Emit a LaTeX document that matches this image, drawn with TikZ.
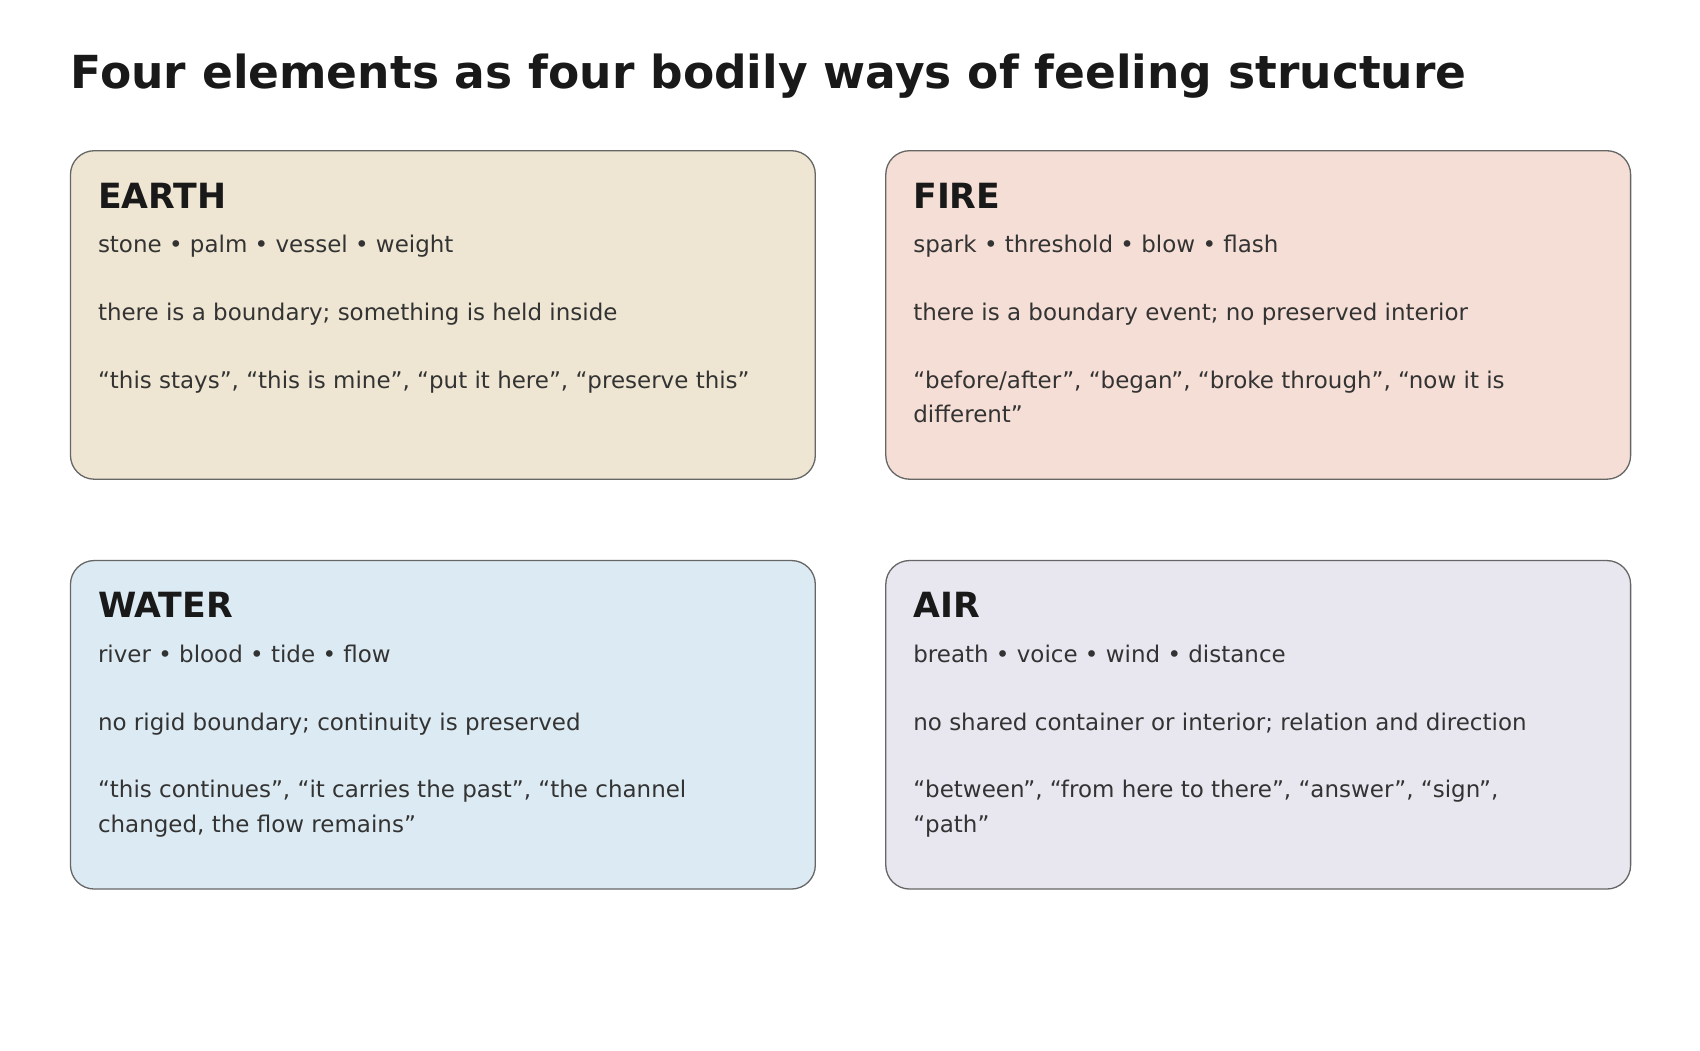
\documentclass[tikz,border=0pt]{standalone}
\usepackage{fontspec}
\setmainfont{DejaVu Sans}
\definecolor{earthbg}{HTML}{EEE6D2}
\definecolor{firebg}{HTML}{F5DED5}
\definecolor{waterbg}{HTML}{DCEBF3}
\definecolor{airbg}{HTML}{E8E6EF}
\definecolor{ink}{HTML}{333333}
\tikzset{
  card/.style={draw=black!60, line width=0.6pt, rounded corners=11pt},
  head/.style={anchor=base west, inner sep=0pt, font=\bfseries\fontsize{16}{19}\selectfont, text=black!90},
  body/.style={anchor=base west, inner sep=0pt, font=\fontsize{10.6}{13}\selectfont, text=ink}
}
% card: name, left x, top y, fill, title, words, meaning, quotes 1, quotes 2
\newcommand{\elemcard}[9]{
  \draw[card, fill=#4] (#2,#3) rectangle ++(687,303);
  \node[head] (#1-title) at (#2+25,#3+53) {#5};
  \node[body] (#1-words) at (#2+25,#3+94) {#6};
  \node[body] (#1-sense) at (#2+25,#3+157) {#7};
  \node[body] (#1-quote) at (#2+25,#3+219) {#8};
  \node[body] (#1-more) at (#2+25,#3+251) {#9};
}
\begin{document}
\begin{tikzpicture}[x=0.5pt, y=-0.5pt]
  \useasboundingbox[fill=white] (0,0) rectangle (1568,969);
  \node[anchor=base west, inner sep=0pt, font=\bfseries\fontsize{21}{25}\selectfont, text=black!90] (title) at (65,82) {Four elements as four bodily ways of feeling structure};

  \elemcard{earth}{65}{139}{earthbg}{EARTH}{stone • palm • vessel • weight}{there is a boundary; something is held inside}{“this stays”, “this is mine”, “put it here”, “preserve this”}{}
  \elemcard{fire}{817}{139}{firebg}{FIRE}{spark • threshold • blow • flash}{there is a boundary event; no preserved interior}{“before/after”, “began”, “broke through”, “now it is}{different”}
  \elemcard{water}{65}{517}{waterbg}{WATER}{river • blood • tide • flow}{no rigid boundary; continuity is preserved}{“this continues”, “it carries the past”, “the channel}{changed, the flow remains”}
  \elemcard{air}{817}{517}{airbg}{AIR}{breath • voice • wind • distance}{no shared container or interior; relation and direction}{“between”, “from here to there”, “answer”, “sign”,}{“path”}
\end{tikzpicture}
\end{document}
